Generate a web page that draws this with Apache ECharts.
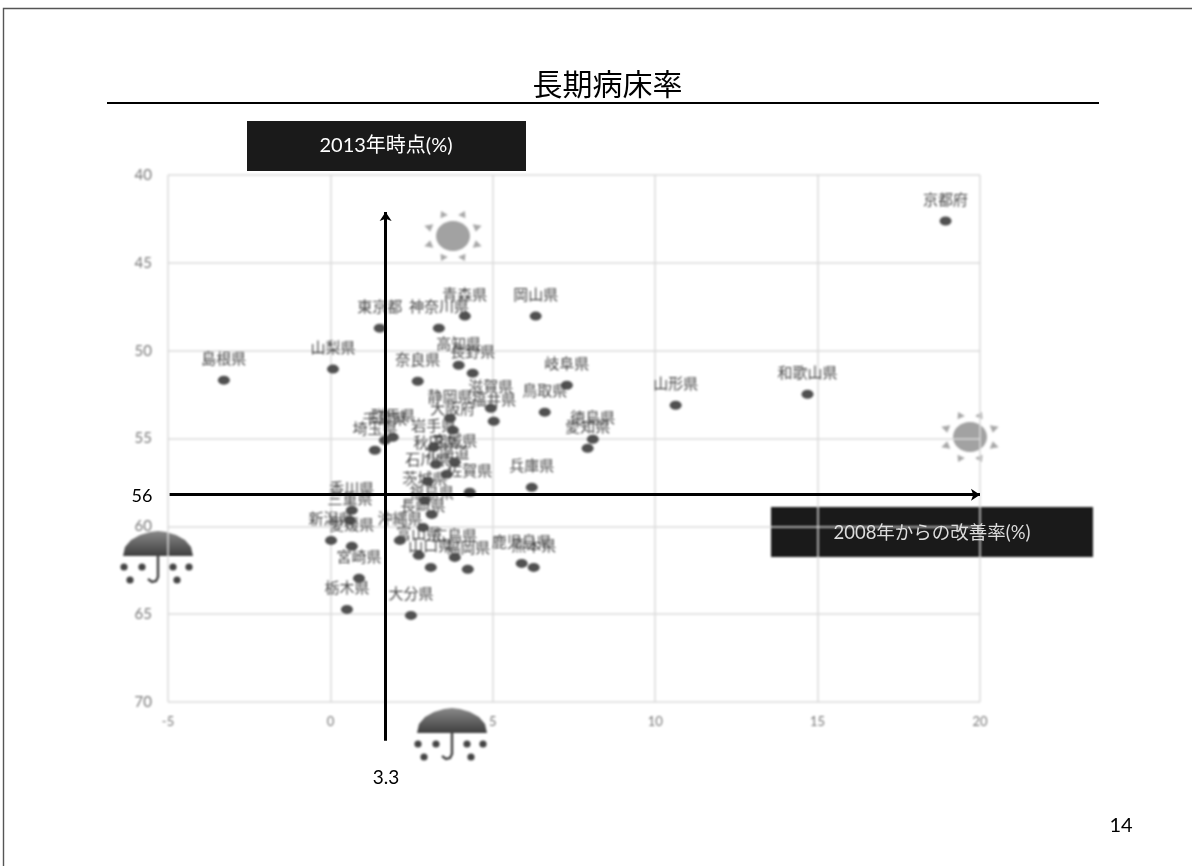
<!DOCTYPE html>
<html lang="ja">
<head>
<meta charset="utf-8">
<title>長期病床率</title>
<script src="https://cdn.jsdelivr.net/npm/echarts@6/dist/echarts.min.js"></script>
<style>
  html, body { margin: 0; padding: 0; background: #fff; }
  #stage { position: relative; width: 1192px; height: 866px; overflow: hidden; }
  #plot, #slide { position: absolute; left: 0; top: 0; width: 1192px; height: 866px; }
  #plot { filter: blur(1px); }
</style>
</head>
<body>
<div id="stage">
  <div id="plot"></div>
  <div id="slide"></div>
</div>
<script>
// 都道府県別: 2008年からの改善率(%) と 2013年時点の長期病床率(%)
const prefectures = [
  '京都府','和歌山県','山形県','島根県','山梨県','東京都','神奈川県','青森県','岡山県','奈良県',
  '高知県','長野県','岐阜県','鳥取県','滋賀県','福井県','静岡県','大阪府','徳島県','愛知県',
  '群馬県','千葉県','埼玉県','岩手県','秋田県','宮城県','北海道','石川県','佐賀県','兵庫県',
  '茨城県','福島県','香川県','三重県','新潟県','愛媛県','宮崎県','栃木県','大分県','長崎県',
  '沖縄県','富山県','山口県','福岡県','広島県','鹿児島県','熊本県'
];
const improvementRates = [
  18.94,14.69,10.63,-3.28,0.08,1.52,3.34,4.14,6.32,2.69,
  3.95,4.38,7.28,6.6,4.94,5.03,3.68,3.77,8.08,7.92,
  1.92,1.68,1.37,3.18,3.25,3.83,3.58,3.0,4.29,6.2,
  2.91,3.12,0.66,0.6,0.02,0.66,0.88,0.51,2.48,2.85,
  2.14,2.72,3.09,4.23,3.83,5.89,6.26
];
const longTermBedRates = [
  42.62,52.48,53.11,51.68,51.05,48.72,48.72,48.03,48.03,51.74,
  50.83,51.28,51.97,53.5,53.28,54.02,53.85,54.53,55.04,55.56,
  54.93,55.1,55.67,55.5,56.47,56.35,57.04,57.44,58.06,57.78,
  58.52,59.32,59.09,59.66,60.8,61.14,62.96,64.73,65.07,60.06,
  60.8,61.65,62.34,62.45,61.77,62.11,62.34
];
// 全国値の基準線
const medianImprovement = 3.3;
const medianBedRate = 56;
const titleText = '長期病床率';
const yAxisCaption = '2013年時点(%)';
const xAxisCaption = '2008年からの改善率(%)';
const pageNumber = '14';

const latin = 'Lato, "Noto Sans CJK JP", sans-serif';
const cjk = '"Noto Sans CJK JP", sans-serif';

// 晴れマーク
function sun(cx, cy) {
  const rays = [];
  for (let i = 0; i < 8; i++) {
    const a = (22.5 + i * 45) * Math.PI / 180;
    const ux = Math.cos(a), uy = Math.sin(a);
    const px = -uy, py = ux;
    rays.push({
      type: 'polygon',
      shape: { points: [
        [cx + ux * 23 + px * 4, cy + uy * 21 + py * 4],
        [cx + ux * 23 - px * 4, cy + uy * 21 - py * 4],
        [cx + ux * 31, cy + uy * 27]
      ] },
      style: { fill: '#a8a8a8' }
    });
  }
  return { type: 'group', children: [
    { type: 'rect', shape: { x: cx - 34, y: cy - 30, width: 68, height: 60 }, style: { fill: '#fff' } },
    { type: 'ellipse', shape: { cx, cy, rx: 17, ry: 15 }, style: { fill: '#a2a2a2' } }
  ].concat(rays) };
}

// 雨マーク
function umbrella(cx, baseY) {
  const drops = [[-34,11],[-16,11],[15,11],[31,11],[-28,24],[19,24]];
  return { type: 'group', children: [
    { type: 'rect', shape: { x: cx - 37, y: baseY - 26, width: 74, height: 58 }, style: { fill: '#fff' } },
    { type: 'polygon',
      shape: { points: [
        [cx-35,baseY],[cx-33,baseY-9],[cx-27,baseY-16],[cx-18,baseY-21],[cx-8,baseY-24],[cx,baseY-25],
        [cx+8,baseY-24],[cx+18,baseY-21],[cx+27,baseY-16],[cx+33,baseY-9],[cx+35,baseY]
      ] },
      style: { fill: { type: 'linear', x: 0, y: 0, x2: 0, y2: 1, colorStops: [
        { offset: 0, color: '#8a8a8a' }, { offset: 1, color: '#3f3f3f' }
      ] } }
    },
    { type: 'polyline',
      shape: { points: [[cx,baseY],[cx,baseY+21],[cx-2,baseY+25],[cx-6,baseY+26],[cx-10,baseY+23]] },
      style: { stroke: '#444', lineWidth: 2.5, fill: 'none' }
    }
  ].concat(drops.map(d => ({
    type: 'circle', shape: { cx: cx + d[0], cy: baseY + d[1], r: 3.6 }, style: { fill: '#444' }
  }))) };
}

const plot = echarts.init(document.getElementById('plot'), null, { renderer: 'canvas' });
plot.setOption({
  animation: false,
  backgroundColor: '#fff',
  grid: { left: 168, top: 175, width: 812, height: 527 },
  xAxis: {
    type: 'value', min: -5, max: 20, interval: 5,
    axisLine: { show: false }, axisTick: { show: false },
    axisLabel: { color: '#777', fontSize: 13, fontFamily: latin, margin: 13 },
    splitLine: { lineStyle: { color: '#dadada', width: 1.5 } }
  },
  yAxis: {
    type: 'value', min: 40, max: 70, interval: 5, inverse: true,
    axisLine: { show: false }, axisTick: { show: false },
    axisLabel: { color: '#777', fontSize: 15, fontFamily: latin, margin: 16 },
    splitLine: { lineStyle: { color: '#dadada', width: 1.5 } }
  },
  graphic: { elements: [
    { type: 'rect', z: -1, shape: { x: 771, y: 507, width: 322, height: 50 }, style: { fill: '#1a1a1a' } },
    Object.assign(sun(453, 236), { z: 1 }),
    Object.assign(sun(970, 437), { z: 1 }),
    Object.assign(umbrella(158, 556), { z: 1 }),
    Object.assign(umbrella(452, 733), { z: 1 })
  ] },
  series: [{
    type: 'scatter',
    z: 5,
    data: prefectures.map((name, i) => ({ name, value: [improvementRates[i], longTermBedRates[i]] })),
    symbol: 'circle',
    symbolSize: [12, 9],
    itemStyle: { color: '#505050', opacity: 1 },
    label: {
      show: true, position: 'top', distance: 10,
      formatter: p => p.name,
      color: '#484848', fontSize: 15, fontFamily: cjk
    },
    labelLayout: { hideOverlap: false }
  }]
});

// 基準線と見出しは鮮明なまま上の層に描く
const slide = echarts.init(document.getElementById('slide'), null, { renderer: 'canvas' });
slide.setOption({
  animation: false,
  backgroundColor: 'transparent',
  grid: { left: 168, top: 175, width: 812, height: 585 },
  xAxis: { type: 'value', min: -3.4, max: 21.6, show: false, splitLine: { show: false } },
  yAxis: { type: 'value', min: 37.8, max: 71.1, inverse: true, show: false, splitLine: { show: false } },
  graphic: { elements: [
    { type: 'polyline', shape: { points: [[3.5, 866], [3.5, 8.5], [1192, 8.5]] }, style: { stroke: '#555', lineWidth: 1.4, fill: 'none' } },
    { type: 'line', shape: { x1: 107, y1: 103, x2: 1099, y2: 103 }, style: { stroke: '#000', lineWidth: 2 } },
    { type: 'text', x: 607.5, y: 84, style: { text: titleText, fill: '#000', font: '30px ' + cjk, align: 'center', verticalAlign: 'middle' } },
    { type: 'rect', shape: { x: 247, y: 121, width: 279, height: 50 }, style: { fill: '#1a1a1a' } },
    { type: 'text', x: 386, y: 146, style: { text: yAxisCaption, fill: '#fff', font: '20px ' + latin, align: 'center', verticalAlign: 'middle' } },
    { type: 'text', x: 932, y: 533, style: { text: xAxisCaption, fill: '#ddd', font: '18.5px ' + latin, align: 'center', verticalAlign: 'middle' } },
    { type: 'text', x: 142, y: 496, style: { text: String(medianBedRate), fill: '#000', font: '18px ' + latin, align: 'center', verticalAlign: 'middle' } },
    { type: 'text', x: 386, y: 778, style: { text: String(medianImprovement), fill: '#000', font: '19px ' + latin, align: 'center', verticalAlign: 'middle' } },
    { type: 'text', x: 1121, y: 826, style: { text: pageNumber, fill: '#000', font: '20px ' + latin, align: 'center', verticalAlign: 'middle' } }
  ] },
  series: [{
    type: 'scatter',
    data: [[medianImprovement, medianBedRate]],
    symbolSize: 0,
    silent: true,
    markLine: {
      silent: true,
      animation: false,
      symbol: ['none', 'arrow'],
      symbolSize: 9,
      label: { show: false },
      lineStyle: { color: '#000', width: 3, type: 'solid' },
      data: [
        [{ coord: [medianImprovement, 70] }, { coord: [medianImprovement, 39.9] }],
        [{ coord: [-3.35, medianBedRate] }, { coord: [21.6, medianBedRate] }]
      ]
    }
  }]
});
</script>
</body>
</html>
